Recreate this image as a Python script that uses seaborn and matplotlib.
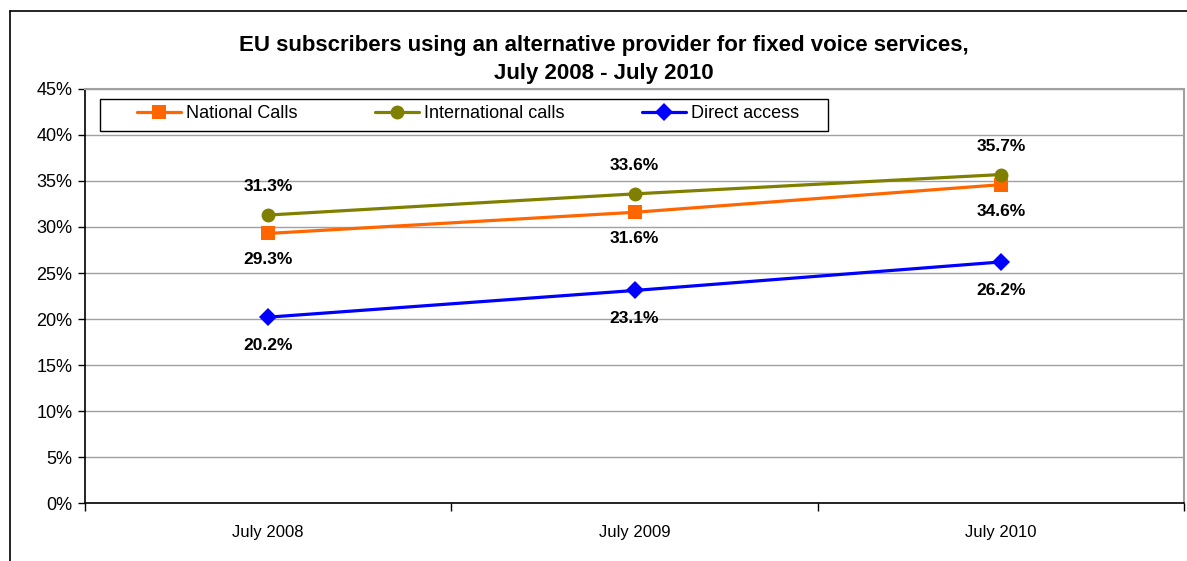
import matplotlib
matplotlib.use("Agg")
import matplotlib.pyplot as plt
from matplotlib.lines import Line2D
from matplotlib.patches import Rectangle
from matplotlib.ticker import FixedLocator, PercentFormatter
import seaborn as sns
import pandas as pd

periods = ["July 2008", "July 2009", "July 2010"]
national_calls = [29.3, 31.6, 34.6]
international_calls = [31.3, 33.6, 35.7]
direct_access = [20.2, 23.1, 26.2]
series_names = ["National Calls", "International calls", "Direct access"]
y_ticks = [0, 5, 10, 15, 20, 25, 30, 35, 40, 45]

sns.set_theme(style="white")
plt.rcParams["font.family"] = ["Liberation Sans", "DejaVu Sans"]
plt.rcParams["text.color"] = "black"

df = pd.DataFrame({
    "period": periods * 3,
    "pos": list(range(len(periods))) * 3,
    "value": national_calls + international_calls + direct_access,
    "series": [s for s in series_names for _ in periods],
})

colors = {"National Calls": "#FF6600", "International calls": "#808000", "Direct access": "#0000FF"}
markers = {"National Calls": "s", "International calls": "o", "Direct access": "D"}
msizes = {"National Calls": 10, "International calls": 10, "Direct access": 9}

W, H = 1187, 561
fig = plt.figure(figsize=(W / 100, H / 100), dpi=100)
ax = fig.add_axes([85 / W, 1 - 503 / H, (1184 - 85) / W, (503 - 89) / H])

for name in series_names:
    sub = df[df["series"] == name]
    sns.lineplot(data=sub, x="pos", y="value", ax=ax, color=colors[name],
                 marker=markers[name], markersize=msizes[name], markeredgewidth=0,
                 linewidth=2.3, label=name, legend=False)

# value labels
offsets = {"National Calls": -19, "International calls": 20.5, "Direct access": -20.5}
for name in series_names:
    sub = df[df["series"] == name]
    for x, v in zip(sub["pos"], sub["value"]):
        ax.annotate(f"{v:.1f}%", (x, v), xytext=(0, offsets[name]), textcoords="offset points",
                    ha="center", va="center", fontsize=12.5, fontweight="bold", color="black")

ax.set_xlim(-0.5, len(periods) - 0.5)
ax.set_ylim(0, 45)
ax.yaxis.set_major_locator(FixedLocator(y_ticks))
ax.yaxis.set_major_formatter(PercentFormatter(decimals=0))
ax.set_xticks(range(len(periods)))
ax.set_xticklabels(periods)
ax.xaxis.set_minor_locator(FixedLocator([i - 0.5 for i in range(len(periods) + 1)]))
ax.tick_params(axis="x", which="major", length=0, pad=16, labelsize=12, labelcolor="black")
ax.tick_params(axis="x", which="minor", length=6, width=1, color="black", direction="out", bottom=True)
ax.tick_params(axis="y", which="major", length=5, width=1, color="black", direction="out",
               left=True, labelsize=13, pad=4, labelcolor="black")
ax.set_xlabel("")
ax.set_ylabel("")
ax.grid(axis="y", color="#A0A0A0", linewidth=1)
ax.set_axisbelow(True)
for side in ["left", "bottom"]:
    ax.spines[side].set_color("black")
    ax.spines[side].set_linewidth(1.2)
for side in ["top", "right"]:
    ax.spines[side].set_color("#A0A0A0")
    ax.spines[side].set_linewidth(1.5)

# legend with hand-placed frame
frame = Rectangle(((100 - 85) / 1099, (503 - 131) / 414), 728 / 1099, 32 / 414,
                  transform=ax.transAxes, facecolor="white", edgecolor="black",
                  linewidth=1, zorder=5)
ax.add_patch(frame)
handles = [Line2D([], [], color=colors[n], marker=markers[n], markersize=msizes[n],
                  markeredgewidth=0, linewidth=2.3) for n in series_names]
leg = ax.legend(handles, series_names, loc="center left",
                bbox_to_anchor=((137 - 85) / 1099, (503 - 114) / 414),
                ncol=3, frameon=False, fontsize=13, handlelength=2.45,
                handletextpad=0.25, columnspacing=4.3, borderpad=0, borderaxespad=0)
leg.set_zorder(6)
for t in leg.get_texts():
    t.set_color("black")

fig.text(604 / W, 1 - 45 / H, "EU subscribers using an alternative provider for fixed voice services,",
         ha="center", va="center", fontsize=16, fontweight="bold", color="black")
fig.text(604 / W, 1 - 73 / H, "July 2008 - July 2010",
         ha="center", va="center", fontsize=16, fontweight="bold", color="black")

# chart area border
fig.add_artist(Line2D([10 / W, 1], [1 - 11 / H, 1 - 11 / H], transform=fig.transFigure,
                      color="black", linewidth=1.2))
fig.add_artist(Line2D([10 / W, 10 / W], [0, 1 - 11 / H], transform=fig.transFigure,
                      color="black", linewidth=1.2))

fig.savefig("out.png", dpi=100, facecolor="white")
